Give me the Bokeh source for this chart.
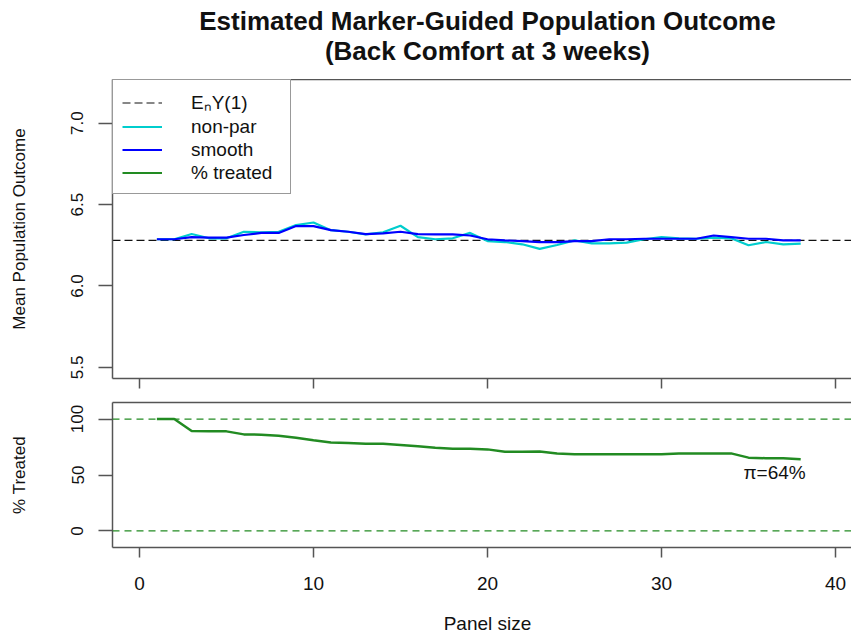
from bokeh.plotting import figure
from bokeh.layouts import column
from bokeh.models import (Span, Legend, LegendItem, LinearAxis, FixedTicker,
                          Range1d, Label)
from bokeh.embed import file_html
from bokeh.resources import INLINE

# Panel sizes evaluated
panel_size = list(range(1, 39))

# Estimated mean population outcome under marker-guided treatment
nonpar = [6.287, 6.287, 6.319, 6.293, 6.293, 6.333, 6.330, 6.333, 6.374, 6.390,
          6.343, 6.333, 6.317, 6.330, 6.370, 6.300, 6.287, 6.293, 6.326, 6.276,
          6.270, 6.256, 6.228, 6.252, 6.280, 6.262, 6.262, 6.266, 6.287, 6.300,
          6.293, 6.290, 6.297, 6.293, 6.250, 6.270, 6.256, 6.260]
smooth = [6.287, 6.287, 6.300, 6.297, 6.297, 6.313, 6.326, 6.326, 6.368, 6.368,
          6.343, 6.333, 6.319, 6.323, 6.333, 6.319, 6.317, 6.317, 6.310, 6.287,
          6.280, 6.276, 6.270, 6.270, 6.276, 6.276, 6.287, 6.287, 6.290, 6.290,
          6.290, 6.290, 6.310, 6.300, 6.290, 6.290, 6.280, 6.280]

# Percentage of the population assigned to treatment
pct_treated = [100, 100, 89.3, 89, 89, 86.3, 86, 85, 83.3, 81,
               79, 78.6, 78, 78, 76.8, 75.6, 74.4, 73.5, 73.5, 72.9,
               70.8, 70.8, 71, 69.3, 68.5, 68.5, 68.5, 68.5, 68.5, 68.5,
               69.3, 69.3, 69.3, 69.3, 65.5, 65, 65, 64]

EnY1 = 6.28
pct_ref_lines = [0, 100]

x_ticks = [0, 10, 20, 30, 40]
y_ticks_top = [5.5, 6.0, 6.5, 7.0]
y_ticks_bottom = [0, 50, 100]

title_lines = ["Estimated Marker-Guided Population Outcome",
               "(Back Comfort at 3 weeks)"]
x_label = "Panel size"
legend_labels = ["E\u2099Y(1)", "non-par", "smooth", "% treated"]
pi_text = "\u03c0=64%"

FONT = "Liberation Sans"
TEXT_COL = "#111111"
AXIS_COL = "#555555"
CYAN = "#00CDCD"
BLUE = "#0000FF"
GREEN = "#228B22"
REF_DASH = "8 4"

W = 851
LEFT = 112
x_range = Range1d(-1.55, 40.92)
x_mid = (x_ticks[0] + x_ticks[-1]) / 2


def style_axis(ax):
    ax.axis_line_color = AXIS_COL
    ax.axis_line_width = 1.5
    ax.major_tick_line_color = AXIS_COL
    ax.major_tick_line_width = 1.5
    ax.minor_tick_line_color = None
    ax.major_tick_in = 0
    ax.major_label_text_font = FONT
    ax.major_label_text_color = TEXT_COL
    ax.axis_label_text_font = FONT
    ax.axis_label_text_font_style = "normal"
    ax.axis_label_text_color = TEXT_COL


def add_top_border(p):
    # a bare axis that closes the box along the top of the frame
    top = LinearAxis(ticker=FixedTicker(ticks=[]), major_tick_out=0,
                     major_tick_in=0, major_label_standoff=0,
                     major_label_text_font_size="0px",
                     axis_line_color=AXIS_COL, axis_line_width=1.5)
    p.add_layout(top, "above")


def base_figure(height, y_range, top, bottom, axes=True):
    kw = {} if axes else dict(x_axis_location=None, y_axis_location=None)
    p = figure(width=W, height=height, x_range=x_range, y_range=y_range,
               min_border_left=LEFT, min_border_right=0,
               min_border_top=top, min_border_bottom=bottom,
               toolbar_location=None, output_backend="svg", **kw)
    p.grid.visible = False
    p.outline_line_color = None
    return p


# ---- heading strip (y counts pixels down from the top) ----
p0 = base_figure(79, Range1d(79, 0), 0, 0, axes=False)
for text, ypos in zip(title_lines, [20, 50]):
    p0.add_layout(Label(x=x_mid, y=ypos, text=text, text_align="center",
                        text_baseline="middle", text_font=FONT,
                        text_font_size="26px", text_font_style="bold",
                        text_color=TEXT_COL))

# ---- upper panel: mean population outcome ----
p1 = base_figure(311, Range1d(5.432, 7.268), 0, 12)
xb1, yl1 = p1.below[0], p1.left[0]
style_axis(xb1)
style_axis(yl1)
xb1.ticker = FixedTicker(ticks=x_ticks)
xb1.major_label_text_font_size = "0px"
xb1.major_label_text_alpha = 0
xb1.major_label_standoff = 0
xb1.major_tick_out = 10
yl1.ticker = FixedTicker(ticks=y_ticks_top)
yl1.major_label_overrides = {t: f"{t:.1f}" for t in y_ticks_top}
yl1.major_label_orientation = "vertical"
yl1.major_label_text_font_size = "17px"
yl1.major_tick_out = 14
yl1.major_label_standoff = 15
yl1.axis_label = "Mean Population Outcome"
yl1.axis_label_text_font_size = "17px"
yl1.axis_label_standoff = 40
add_top_border(p1)

# reference level E_n Y(1), drawn across the whole x range
r_ref = p1.line([x_range.start, x_range.end], [EnY1, EnY1],
                line_color="#111111", line_width=1.2, line_dash=REF_DASH)
r_np = p1.line(panel_size, nonpar, line_color=CYAN, line_width=2.2)
r_sm = p1.line(panel_size, smooth, line_color=BLUE, line_width=2.2)
# % treated lives on the lower scale; here it only feeds the legend key
r_tr = p1.line(panel_size, pct_treated, line_color=GREEN, line_width=2.2)

legend = Legend(items=[LegendItem(label=legend_labels[0], renderers=[r_ref]),
                       LegendItem(label=legend_labels[1], renderers=[r_np]),
                       LegendItem(label=legend_labels[2], renderers=[r_sm]),
                       LegendItem(label=legend_labels[3], renderers=[r_tr])],
                location="top_left", margin=0, padding=9, spacing=0,
                glyph_width=40, glyph_height=23, label_height=23,
                label_width=90, label_standoff=29,
                label_text_font=FONT, label_text_font_size="19px",
                label_text_color=TEXT_COL,
                border_line_color="#333333", border_line_width=1.5,
                background_fill_color="white", background_fill_alpha=1)
p1.add_layout(legend)

# ---- lower panel: percentage treated ----
p2 = base_figure(209, Range1d(-14.8, 114.8), 12, 52)
xb2, yl2 = p2.below[0], p2.left[0]
style_axis(xb2)
style_axis(yl2)
xb2.ticker = FixedTicker(ticks=x_ticks)
xb2.major_label_text_font_size = "19px"
xb2.major_tick_out = 10
xb2.major_label_standoff = 19
yl2.ticker = FixedTicker(ticks=y_ticks_bottom)
yl2.major_label_orientation = "vertical"
yl2.major_label_text_font_size = "17px"
yl2.major_tick_out = 14
yl2.major_label_standoff = 15
yl2.axis_label = "% Treated"
yl2.axis_label_text_font_size = "17px"
yl2.axis_label_standoff = 40
add_top_border(p2)

for loc in pct_ref_lines:
    p2.add_layout(Span(location=loc, dimension="width", line_color=GREEN,
                       line_width=1.2, line_dash="7 5"))
p2.line(panel_size, pct_treated, line_color=GREEN, line_width=2.5)
p2.add_layout(Label(x=36.5, y=52, text=pi_text, text_align="center",
                    text_baseline="middle", text_font=FONT,
                    text_font_size="19px", text_color=TEXT_COL))

# ---- x-axis title strip ----
p3 = base_figure(36, Range1d(36, 0), 0, 0, axes=False)
p3.add_layout(Label(x=x_mid, y=24, text=x_label, text_align="center",
                    text_baseline="middle", text_font=FONT,
                    text_font_size="19px", text_color=TEXT_COL))

layout = column(p0, p1, p2, p3, spacing=0)
open("out.html", "w").write(file_html(layout, INLINE))
